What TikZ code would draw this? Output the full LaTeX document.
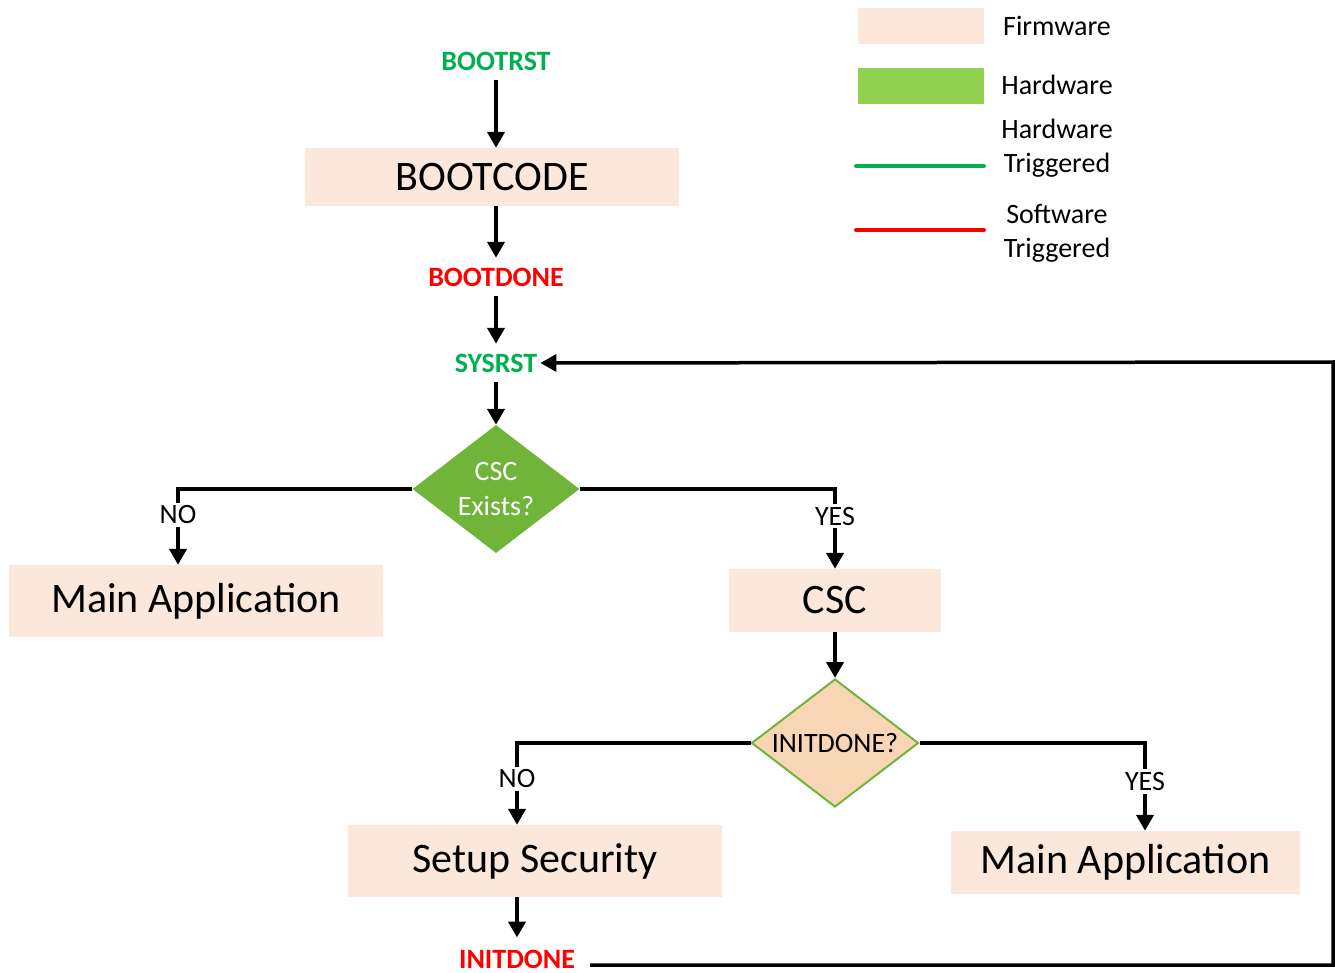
\documentclass[tikz,border=0pt]{standalone}
\usepackage{fontspec}
\setmainfont{Carlito}
\usetikzlibrary{shapes.geometric,arrows.meta}
\definecolor{fwfill}{HTML}{FBE8DB}
\definecolor{hwfill}{HTML}{92D050}
\definecolor{hwline}{HTML}{00B050}
\definecolor{swline}{HTML}{FF0000}
\definecolor{decgreen}{HTML}{70B43A}
\definecolor{decpeach}{HTML}{F8D5B5}
\begin{document}
\begin{tikzpicture}[x=1pt, y=-1pt,
  fwbox/.style={rectangle, fill=fwfill, inner sep=0, font=\fontsize{42}{50}\selectfont},
  signal/.style={inner sep=3pt, minimum height=38pt, font=\fontsize{28}{33}\selectfont\bfseries},
  decision/.style={diamond, aspect=1.3, inner sep=0, minimum width=167pt, minimum height=128pt,
    align=center, font=\fontsize{28}{35}\selectfont},
  choice/.style={fill=white, inner sep=3pt, font=\fontsize{28}{33}\selectfont},
  legtext/.style={align=center, font=\fontsize{28}{34}\selectfont},
  flow/.style={line width=4pt, -{Triangle[length=16pt, width=17pt]}},
  loopback/.style={line width=3.5pt, -{Triangle[length=16pt, width=17pt]}}]
\useasboundingbox (0,0) rectangle (1335,973);
\node[signal, hwline] (bootrst) at (496,61){BOOTRST};
\node[fwbox, minimum width=374pt, minimum height=58pt] (bootcode) at (492,177){BOOTCODE};
\node[signal, swline] (bootdone) at (496,277){BOOTDONE};
\node[signal, hwline] (sysrst) at (496,363){SYSRST};
\node[decision, fill=decgreen, text=white] (cscexists) at (496,489){CSC\\Exists?};
\node[fwbox, minimum width=374pt, minimum height=72pt] (mainleft) at (196,601){Main Application};
\node[fwbox, minimum width=212pt, minimum height=63pt] (csc) at (835,600.5){CSC};
\node[decision, fill=decpeach, draw=decgreen, line width=2pt] (initcheck) at (835,743){INITDONE?};
\node[fwbox, minimum width=374pt, minimum height=72pt] (setup) at (535,861){Setup Security};
\node[fwbox, minimum width=349pt, minimum height=63pt] (mainright) at (1125.5,862.5){Main Application};
\node[signal, swline, minimum height=0pt, inner sep=2pt] (initdone) at (517,959){INITDONE};
\coordinate (ret) at (1333,362);
\draw[flow](bootrst) -- (bootrst |- bootcode.north);
\draw[flow](bootdone |- bootcode.south) -- (bootdone);
\draw[flow](bootdone) -- (sysrst);
\draw[flow](sysrst) -- (cscexists);
\draw[flow](cscexists.west) -| node[choice, pos=0.67]{NO} ([xshift=-18pt]mainleft.north);
\draw[flow](cscexists.east) -| node[choice, pos=0.67]{YES} (csc.north);
\draw[flow](csc) -- (initcheck);
\draw[flow](initcheck.west) -| node[choice, pos=0.72]{NO} ([xshift=-18pt]setup.north);
\draw[flow](initcheck.east) -| node[choice, pos=0.72]{YES} ([xshift=19.5pt]mainright.north);
\draw[flow](setup.south -| initdone) -- ([yshift=10pt]initdone.north);
\draw[loopback]([xshift=13pt, yshift=-6pt]initdone.east) -| (ret) -- (sysrst.east);
\node[rectangle, fill=fwfill, minimum width=126pt, minimum height=36pt] (legfw) at (921,26){};
\node[rectangle, fill=hwfill, minimum width=126pt, minimum height=36pt] (leghw) at (921,86){};
\coordinate (hwa) at (856,166);
\coordinate (hwb) at (984,166);
\coordinate (swa) at (856,230);
\coordinate (swb) at (984,230);
\draw[hwline, line width=4pt, line cap=round](hwa) -- (hwb);
\draw[swline, line width=4pt, line cap=round](swa) -- (swb);
\node[legtext] (legfwtext) at (1057,26){Firmware};
\node[legtext] (leghwtext) at (1057,85){Hardware};
\node[legtext] (leghwtrig) at (1057,148){Hardware\\Triggered};
\node[legtext] (legswtrig) at (1057,233){Software\\Triggered};
\end{tikzpicture}
\end{document}
